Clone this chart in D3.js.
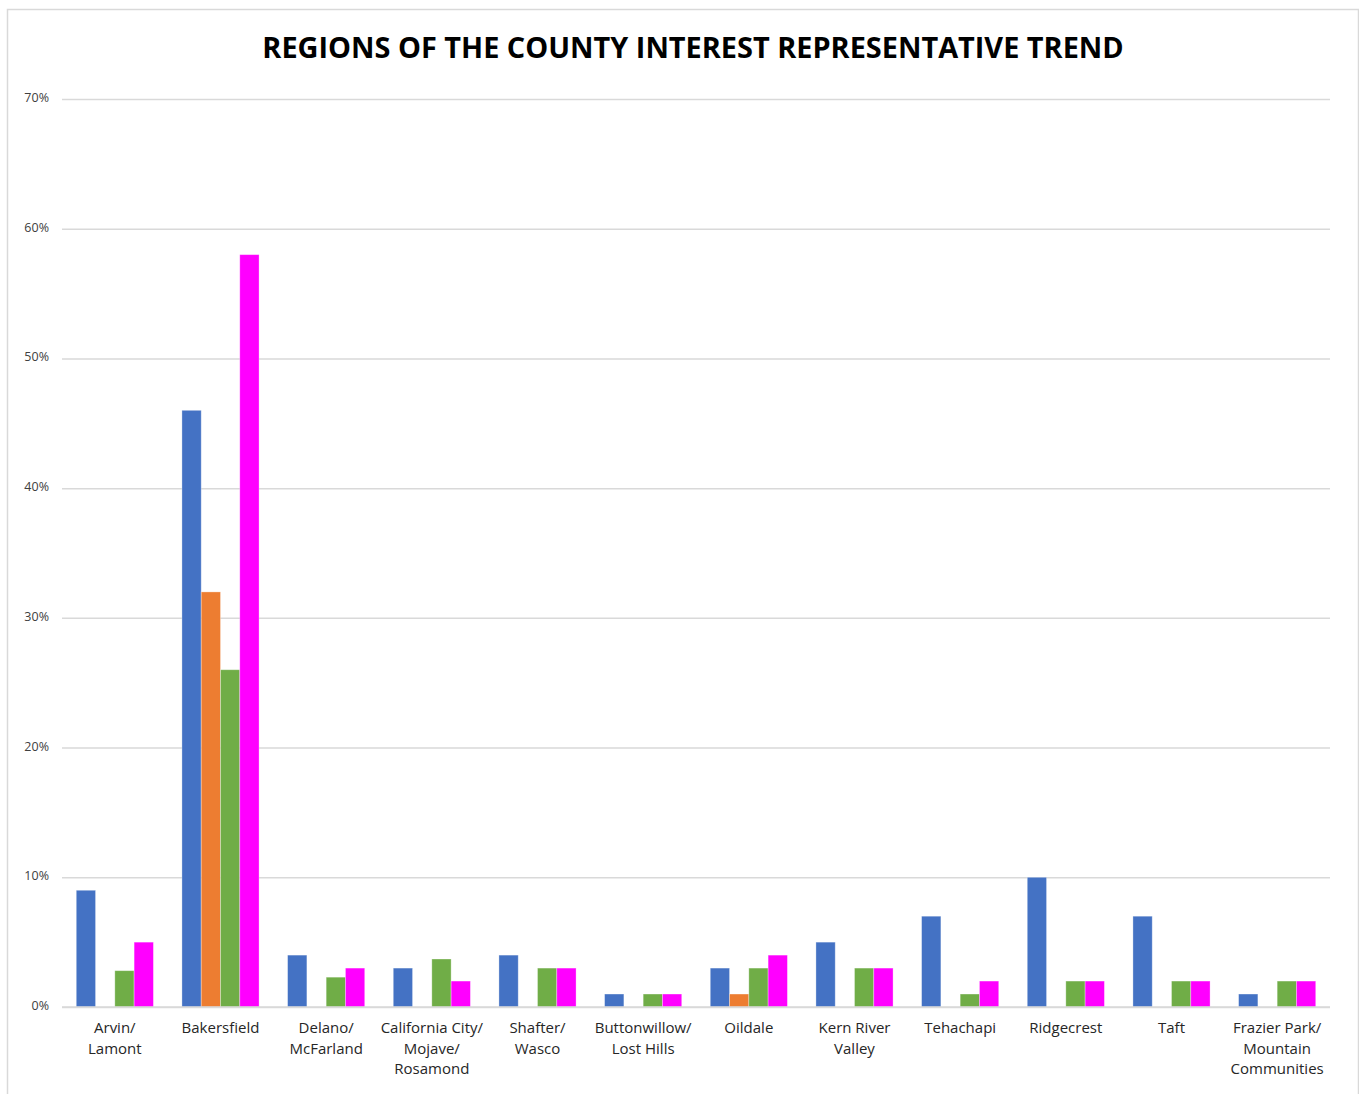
<!DOCTYPE html>
<html>
<head>
<meta charset="utf-8">
<script src="https://cdn.jsdelivr.net/npm/d3@7"></script>
<style>
  body { margin: 0; background: #fff; font-family: "Open Sans", "Noto Sans", sans-serif; }
</style>
</head>
<body>
<div class="container"></div>
<script>
const categories = [
  "Arvin/\nLamont", "Bakersfield", "Delano/\nMcFarland", "California City/\nMojave/\nRosamond",
  "Shafter/\nWasco", "Buttonwillow/\nLost Hills", "Oildale", "Kern River\nValley",
  "Tehachapi", "Ridgecrest", "Taft", "Frazier Park/\nMountain\nCommunities"
];
const seriesNames = ["Series 1", "Series 2", "Series 3", "Series 4"];
const blueValues    = [9, 46, 4, 3, 4, 1, 3, 5, 7, 10, 7, 1];
const orangeValues  = [0, 32, 0, 0, 0, 0, 1, 0, 0, 0, 0, 0];
const greenValues   = [2.8, 26, 2.3, 3.7, 3, 1, 3, 3, 1, 2, 2, 2];
const magentaValues = [5, 58, 3, 2, 3, 1, 4, 3, 2, 2, 2, 2];
const colors = ["#4472C4", "#ED7D31", "#70AD47", "#FF00FF"];
const yTicks = [0, 10, 20, 30, 40, 50, 60, 70];

const W = 1359, H = 1094;
const margin = { top: 99, right: 29, bottom: 87, left: 62 };
const width = W - margin.left - margin.right;
const height = H - margin.top - margin.bottom;

const svg = d3.select(".container").append("svg")
  .attr("width", W).attr("height", H);

// frame
svg.append("rect")
  .attr("x", 7.5).attr("y", 9.5)
  .attr("width", W - 8).attr("height", H)
  .attr("fill", "none").attr("stroke", "#d9d9d9").attr("stroke-width", 1.5);

svg.append("text")
  .attr("x", 693).attr("y", 58)
  .attr("text-anchor", "middle")
  .attr("font-size", 28.9).attr("font-weight", "bold")
  .attr("fill", "#000")
  .text("REGIONS OF THE COUNTY INTEREST REPRESENTATIVE TREND");

const g = svg.append("g").attr("transform", `translate(${margin.left},${margin.top})`);

const x0 = d3.scaleBand().domain(categories).range([0, width]).paddingInner(0.27).paddingOuter(0.135);
const x1 = d3.scaleBand().domain(seriesNames).range([0, x0.bandwidth()]);
const y = d3.scaleLinear().domain([0, 70]).range([height, 0]);

// gridlines + y labels
const yAxis = d3.axisLeft(y).tickValues(yTicks).tickSize(-width).tickFormat(d => d + "%");
g.append("g").call(yAxis)
  .call(s => s.select(".domain").remove())
  .call(s => s.selectAll(".tick line").attr("stroke", "#d9d9d9").attr("stroke-width", 1.5))
  .call(s => s.selectAll(".tick text")
    .attr("x", -13).attr("dy", "0.2em")
    .attr("font-size", 12.5).attr("fill", "#404040")
    .attr("font-family", "Open Sans, Noto Sans, sans-serif"));

const rows = categories.map((c, i) => ({
  cat: c,
  vals: [blueValues[i], orangeValues[i], greenValues[i], magentaValues[i]]
}));

const groups = g.selectAll(".grp").data(rows).enter().append("g")
  .attr("class", "grp")
  .attr("transform", d => `translate(${x0(d.cat)},0)`);

groups.selectAll("rect")
  .data(d => d.vals.map((v, k) => ({ v, k })))
  .enter().append("rect")
  .attr("x", d => x1(seriesNames[d.k]))
  .attr("y", d => y(d.v))
  .attr("width", x1.bandwidth())
  .attr("height", d => height - y(d.v))
  .attr("fill", d => colors[d.k])
  .attr("stroke", "#fff").attr("stroke-opacity", 0.4).attr("stroke-width", 0.8)
  .style("display", d => d.v > 0 ? null : "none");

// x axis baseline
g.append("line")
  .attr("x1", 0).attr("x2", width)
  .attr("y1", height).attr("y2", height)
  .attr("stroke", "#d9d9d9").attr("stroke-width", 1.5);

// category labels
const xl = g.append("g").selectAll("text").data(categories).enter().append("text")
  .attr("x", d => x0(d) + x0.bandwidth() / 2)
  .attr("y", height + 26)
  .attr("text-anchor", "middle")
  .attr("font-size", 15).attr("fill", "#262626");
xl.selectAll("tspan").data(d => d.split("\n")).enter().append("tspan")
  .attr("x", function () { return d3.select(this.parentNode).attr("x"); })
  .attr("dy", (d, i) => i === 0 ? 0 : 20.5)
  .text(d => d);
</script>
</body>
</html>
